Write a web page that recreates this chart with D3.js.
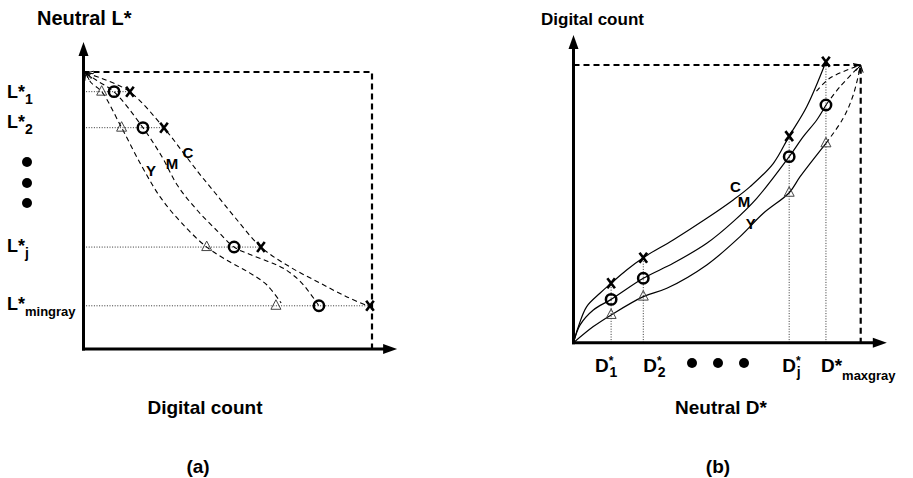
<!DOCTYPE html>
<html>
<head>
<meta charset="utf-8">
<script src="https://cdn.jsdelivr.net/npm/d3@7"></script>
<style>
  body { margin: 0; background: #fff; }
  svg text { font-family: "Liberation Sans", Arial, Helvetica, sans-serif; font-weight: bold; fill: #000; }
</style>
</head>
<body>
<svg id="fig" width="913" height="478"></svg>
<script>
// ---------- (a) neutral L* against digital count ----------
const levelsA = [92.9, 79.9, 36.8, 15.6];            // L*_1, L*_2, L*_j, L*_mingray
const levelNamesA = ["1", "2", "j", "mingray"];
const cyanA = [16.1, 27.9, 61.5, 99.3];              // C digital count reaching each level
const magentaA = [10.6, 20.6, 52.2, 81.6];           // M digital count
const yellowA = [6.3, 13.2, 42.7, 66.7];             // Y digital count
// tone curves, [digital count, L*]
const cyanCurveA = [[0.8, 99.6], [6, 97.8], [16.1, 92.8], [27.9, 79.8], [34.5, 71.0], [40.0, 63.5],
  [45.5, 56.5], [52.5, 47.5], [61.5, 36.8], [71.6, 29.6], [82.0, 23.8], [91.3, 18.8], [99.3, 15.2]];
const magentaCurveA = [[0.8, 99.6], [4.5, 97], [10.6, 92.8], [20.6, 79.9], [27.2, 69.4], [32.6, 59.0],
  [39.5, 50.0], [46.5, 42.5], [52.2, 36.8], [57.5, 34.2], [64.0, 31.6], [69.5, 29.0], [75.5, 24.0], [81.6, 15.6]];
const yellowCurveA = [[0.8, 99.6], [2.5, 96.3], [6.3, 92.9], [13.2, 79.9], [20.2, 66.0], [26.5, 55.0],
  [34.0, 45.5], [42.7, 36.8], [50.8, 31.4], [57.7, 27.4], [63.6, 23.1], [68.5, 16.6]];

// ---------- (b) digital count against neutral D* ----------
const levelsB = [13.1, 24.3, 75.1, 87.9];            // D*_1, D*_2, D*_j, D*_maxgray
const levelNamesB = ["1", "2", "j", "maxgray"];
const cyanB = [21.4, 30.6, 74.4, 101.2];
const magentaB = [15.6, 23.2, 67.0, 85.6];
const yellowB = [10.0, 16.6, 54.0, 71.8];
// inverse tone curves, [neutral D*, digital count]
const cyanCurveB = [[0, 0], [1.7, 5.8], [4.6, 13.0], [9.2, 17.8], [13.1, 21.4], [18.5, 26.2], [24.3, 30.6],
  [34.7, 37.0], [46.4, 44.8], [55.6, 51.4], [61.5, 56.2], [69.6, 64.6], [75.1, 74.4], [81.2, 85.0], [87.9, 101.2]];
const magentaCurveB = [[0, 0], [2.3, 6.4], [6.9, 11.8], [13.1, 15.6], [24.3, 23.2], [34.7, 28.6], [46.4, 35.8],
  [55.6, 43.6], [63.8, 52.0], [75.1, 67.0], [80.0, 74.2], [84.7, 80.2], [87.9, 85.6]];
const yellowCurveB = [[0, 0], [6.9, 5.8], [13.1, 10.0], [24.3, 16.6], [32.5, 19.6], [46.4, 28.0], [58.0, 38.2],
  [66.1, 46.6], [75.1, 54.0], [78.9, 59.8], [87.9, 71.8]];
// dashed runs from each curve's end to the full-scale corner
const cyanExtB = [[84.6, 90.6], [89.3, 95.3], [100, 100]];
const magentaExtB = [[87.9, 85.6], [92.8, 92.2], [100, 100]];
const yellowExtB = [[87.9, 71.8], [93.9, 80.8], [97.4, 89.2], [100, 100]];

const inkLabels = ["C", "M", "Y"];
const inkLabelPosA = [[36.2, 70.8], [30.7, 67.1], [23.4, 64.3]];
const inkLabelPosB = [[56.4, 56.3], [59.4, 50.7], [61.7, 42.8]];

const svg = d3.select("#fig");
const smooth = d3.curveCatmullRom.alpha(0.5);

// open chevron used where the curves meet the full-scale corner
const defs = svg.append("defs");
defs.append("marker").attr("id", "chev")
  .attr("markerUnits", "userSpaceOnUse").attr("markerWidth", 10).attr("markerHeight", 10)
  .attr("refX", 7).attr("refY", 4).attr("orient", "auto-start-reverse")
  .append("path").attr("d", "M0,0L7,4L0,8").attr("fill", "none").attr("stroke", "#000").attr("stroke-width", 0.9);

function drawAxes(g, x, y, xTipVal, yTipVal) {
  const x0 = x(0), y0 = y(0);
  // dashed full-scale frame
  g.append("path")
    .attr("d", `M${x0},${y(100)}H${x(100)}V${y0}`)
    .attr("fill", "none").attr("stroke", "#000").attr("stroke-width", 2.2).attr("stroke-dasharray", "6,4");
  const yTip = y(yTipVal), xTip = x(xTipVal);
  g.append("line").attr("x1", x0).attr("y1", y0 + 1.5).attr("x2", x0).attr("y2", yTip + 10)
    .attr("stroke", "#000").attr("stroke-width", 3);
  g.append("line").attr("x1", x0 - 1.5).attr("y1", y0).attr("x2", xTip - 10).attr("y2", y0)
    .attr("stroke", "#000").attr("stroke-width", 3);
  g.append("path").attr("d", `M${x0},${yTip}L${x0 + 5},${yTip + 14}L${x0 - 5},${yTip + 14}Z`);
  g.append("path").attr("d", `M${xTip},${y0}L${xTip - 14},${y0 - 5}L${xTip - 14},${y0 + 5}Z`);
}

function drawMarkers(g, pts) {
  pts.forEach(p => {
    if (p.kind === "x") {
      g.append("path").attr("d", `M${p.x - 3.8},${p.y - 5}L${p.x + 3.8},${p.y + 5}M${p.x + 3.8},${p.y - 5}L${p.x - 3.8},${p.y + 5}`)
        .attr("stroke", "#000").attr("stroke-width", 2.6).attr("fill", "none");
    } else if (p.kind === "o") {
      g.append("circle").attr("cx", p.x).attr("cy", p.y).attr("r", 5.2)
        .attr("fill", "none").attr("stroke", "#000").attr("stroke-width", 2.5);
    } else {
      g.append("path").attr("d", `M${p.x},${p.y - 6}L${p.x + 5},${p.y + 3.5}L${p.x - 5},${p.y + 3.5}Z`)
        .attr("fill", "none").attr("stroke", "#444").attr("stroke-width", 1);
    }
  });
}

// ================= panel (a) =================
{
  const x = d3.scaleLinear().domain([0, 100]).range([83.5, 372]);
  const y = d3.scaleLinear().domain([0, 100]).range([349, 72]);
  const g = svg.append("g");

  // dotted guides from the L* axis to each cyan point
  levelsA.forEach((L, i) => {
    g.append("line").attr("x1", x(0)).attr("x2", x(cyanA[i])).attr("y1", y(L)).attr("y2", y(L))
      .attr("stroke", "#333").attr("stroke-width", 1).attr("stroke-dasharray", "1,1.6");
  });

  drawAxes(g, x, y, 108.7, 110.8);

  const line = d3.line().x(d => x(d[0])).y(d => y(d[1])).curve(smooth);
  [cyanCurveA, magentaCurveA, yellowCurveA].forEach(c => {
    g.append("path").attr("d", line(c)).attr("fill", "none").attr("stroke", "#000")
      .attr("stroke-width", 1.1).attr("stroke-dasharray", "5,3.5").attr("marker-start", "url(#chev)");
  });

  const pts = [];
  levelsA.forEach((L, i) => {
    pts.push({ x: x(yellowA[i]), y: y(L), kind: "t" });
    pts.push({ x: x(magentaA[i]), y: y(L), kind: "o" });
    pts.push({ x: x(cyanA[i]), y: y(L), kind: "x" });
  });
  drawMarkers(g, pts);

  inkLabels.forEach((t, i) => {
    g.append("text").attr("x", x(inkLabelPosA[i][0])).attr("y", y(inkLabelPosA[i][1]))
      .attr("text-anchor", "middle").attr("dy", "0.36em").style("font-size", "15px").text(t);
  });

  // L* level labels
  const labelDy = [6.5, 0.5, 4.5, 4.5];
  levelsA.forEach((L, i) => {
    const t = g.append("text").attr("x", 7).attr("y", y(L) + labelDy[i]).style("font-size", "18px");
    t.append("tspan").text("L*");
    t.append("tspan").attr("dy", 6).style("font-size", levelNamesA[i].length > 1 ? "13px" : "14px").text(levelNamesA[i]);
  });
  // vertical ellipsis between L*_2 and L*_j
  [162, 183, 203].forEach(cy => g.append("circle").attr("cx", 27).attr("cy", cy).attr("r", 5));

  g.append("text").attr("x", 37).attr("y", 25).style("font-size", "20px").text("Neutral L*");
  g.append("text").attr("x", 205).attr("y", 414).attr("text-anchor", "middle").style("font-size", "19px").text("Digital count");
  g.append("text").attr("x", 198).attr("y", 473).attr("text-anchor", "middle").style("font-size", "19px").text("(a)");
}

// ================= panel (b) =================
{
  const x = d3.scaleLinear().domain([0, 100]).range([573.5, 860.7]);
  const y = d3.scaleLinear().domain([0, 100]).range([342.7, 65]);
  const g = svg.append("g");

  levelsB.forEach((D, i) => {
    g.append("line").attr("x1", x(D)).attr("x2", x(D)).attr("y1", y(0)).attr("y2", y(cyanB[i]))
      .attr("stroke", "#333").attr("stroke-width", 1).attr("stroke-dasharray", "1,1.6");
  });

  drawAxes(g, x, y, 109.1, 110.8);

  const line = d3.line().x(d => x(d[0])).y(d => y(d[1])).curve(smooth);
  [cyanCurveB, magentaCurveB, yellowCurveB].forEach(c => {
    g.append("path").attr("d", line(c)).attr("fill", "none").attr("stroke", "#000").attr("stroke-width", 1.2);
  });
  [cyanExtB, magentaExtB, yellowExtB].forEach(c => {
    g.append("path").attr("d", line(c)).attr("fill", "none").attr("stroke", "#000")
      .attr("stroke-width", 1.1).attr("stroke-dasharray", "5,3.5").attr("marker-end", "url(#chev)");
  });

  const pts = [];
  levelsB.forEach((D, i) => {
    pts.push({ x: x(D), y: y(yellowB[i]), kind: "t" });
    pts.push({ x: x(D), y: y(magentaB[i]), kind: "o" });
    pts.push({ x: x(D), y: y(cyanB[i]), kind: "x" });
  });
  drawMarkers(g, pts);

  inkLabels.forEach((t, i) => {
    g.append("text").attr("x", x(inkLabelPosB[i][0])).attr("y", y(inkLabelPosB[i][1]))
      .attr("text-anchor", "middle").attr("dy", "0.36em").style("font-size", "15px").text(t);
  });

  // D* level labels under the axis: star above, index below for short indices
  const labelDx = [-16, 0, -7, -5];
  const base = y(0) + 29;
  levelsB.forEach((D, i) => {
    const lx = x(D) + labelDx[i];
    const t = g.append("text").attr("x", lx).attr("y", base).style("font-size", "19px");
    t.append("tspan").text("D");
    if (levelNamesB[i].length > 1) {
      t.append("tspan").text("*");
      t.append("tspan").attr("dy", 8).style("font-size", "13px").text(levelNamesB[i]);
    } else {
      t.append("tspan").attr("dy", -7).style("font-size", "12px").text("*");
      t.append("tspan").attr("x", lx + 14.5).attr("dy", 12).style("font-size", "14px").text(levelNamesB[i]);
    }
  });
  // horizontal ellipsis between D*_2 and D*_j
  [692, 718, 744].forEach(cx => g.append("circle").attr("cx", cx).attr("cy", 363).attr("r", 5));

  g.append("text").attr("x", 541).attr("y", 25).style("font-size", "17px").text("Digital count");
  g.append("text").attr("x", 721).attr("y", 414).attr("text-anchor", "middle").style("font-size", "19px").text("Neutral D*");
  g.append("text").attr("x", 718).attr("y", 473).attr("text-anchor", "middle").style("font-size", "19px").text("(b)");
}
</script>
</body>
</html>
